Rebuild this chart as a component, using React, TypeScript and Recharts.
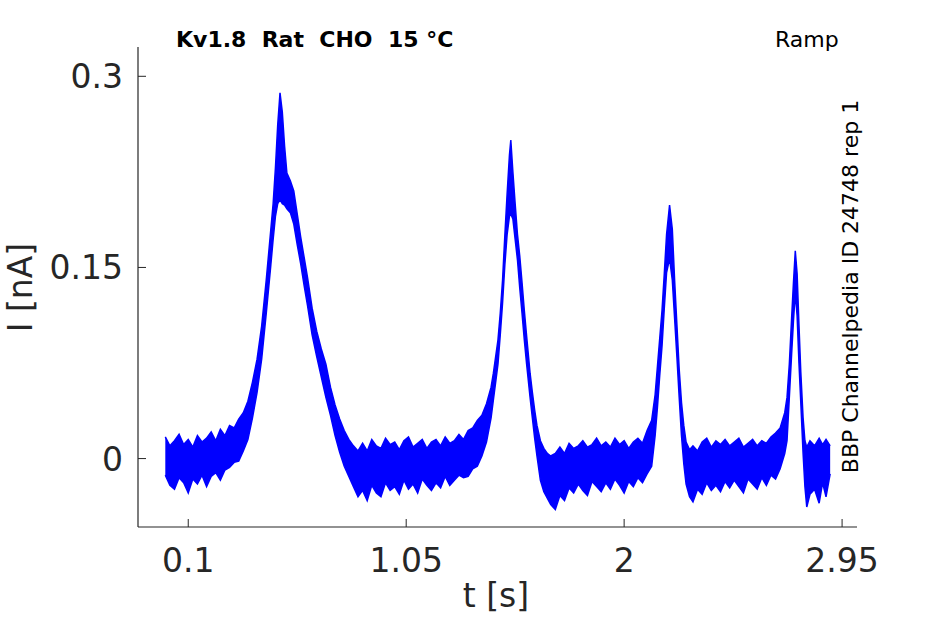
import { ComposedChart, Area, XAxis, YAxis } from "recharts";

const time = [
  0.0, 0.02, 0.04, 0.06, 0.08, 0.1, 0.12, 0.14, 0.16, 0.18, 0.2, 0.22, 0.24, 0.26, 0.28, 0.3,
  0.32, 0.34, 0.36, 0.38, 0.4, 0.42, 0.44, 0.46, 0.47, 0.48, 0.49, 0.5, 0.51, 0.52, 0.53, 0.545,
  0.56, 0.575, 0.59, 0.605, 0.62, 0.64, 0.66, 0.68, 0.7, 0.72, 0.74, 0.76, 0.78, 0.8, 0.82, 0.84,
  0.86, 0.88, 0.9, 0.92, 0.94, 0.96, 0.98, 1.0, 1.02, 1.04, 1.06, 1.08, 1.1, 1.12, 1.14, 1.16,
  1.18, 1.2, 1.22, 1.24, 1.26, 1.28, 1.3, 1.32, 1.34, 1.36, 1.38, 1.4, 1.42, 1.43, 1.44, 1.45,
  1.46, 1.47, 1.48, 1.49, 1.5, 1.506, 1.515, 1.525, 1.535, 1.545, 1.555, 1.565, 1.575, 1.59, 1.6, 1.61,
  1.62, 1.635, 1.65, 1.665, 1.68, 1.7, 1.72, 1.74, 1.76, 1.78, 1.8, 1.82, 1.84, 1.86, 1.88, 1.9,
  1.92, 1.94, 1.96, 1.98, 2.0, 2.02, 2.04, 2.06, 2.08, 2.1, 2.12, 2.135, 2.145, 2.155, 2.165, 2.175,
  2.185, 2.198, 2.21, 2.22, 2.23, 2.24, 2.25, 2.26, 2.27, 2.285, 2.3, 2.32, 2.34, 2.36, 2.38, 2.4,
  2.42, 2.44, 2.46, 2.48, 2.5, 2.52, 2.54, 2.56, 2.58, 2.6, 2.62, 2.64, 2.66, 2.68, 2.7, 2.71,
  2.72, 2.73, 2.738, 2.746, 2.754, 2.762, 2.77, 2.78, 2.788, 2.796, 2.81, 2.83, 2.85, 2.865, 2.88, 2.898,
];

// upper edge of the noisy current trace
const upper = [
  0.017, 0.01, 0.014, 0.019, 0.011, 0.015, 0.009, 0.018, 0.013, 0.016, 0.021, 0.014, 0.023, 0.018, 0.026, 0.024,
  0.031, 0.036, 0.045, 0.06, 0.078, 0.104, 0.14, 0.18, 0.2, 0.228, 0.262, 0.287, 0.272, 0.245, 0.224, 0.218,
  0.21, 0.192, 0.174, 0.158, 0.142, 0.118, 0.1, 0.086, 0.074, 0.056, 0.042, 0.031, 0.022, 0.015, 0.01, 0.006,
  0.012, 0.006, 0.015, 0.01, 0.008, 0.016, 0.011, 0.013, 0.007, 0.014, 0.017, 0.009, 0.012, 0.015, 0.008, 0.013,
  0.015, 0.01, 0.017, 0.012, 0.014, 0.019, 0.015, 0.022, 0.024, 0.03, 0.034, 0.043, 0.056, 0.067, 0.08, 0.093,
  0.114, 0.14, 0.175, 0.208, 0.238, 0.25, 0.225, 0.2, 0.176, 0.159, 0.138, 0.116, 0.096, 0.067, 0.052, 0.038,
  0.026, 0.014, 0.008, 0.004, 0.002, 0.004, 0.009, 0.004, 0.012, 0.008, 0.01, 0.014, 0.009, 0.011, 0.016, 0.01,
  0.013, 0.009, 0.016, 0.011, 0.014, 0.008, 0.013, 0.016, 0.012, 0.022, 0.03, 0.05, 0.072, 0.094, 0.116, 0.145,
  0.176, 0.199, 0.18, 0.14, 0.105, 0.07, 0.044, 0.026, 0.013, 0.007, 0.01, 0.006, 0.013, 0.016, 0.009, 0.014,
  0.011, 0.015, 0.01, 0.013, 0.016, 0.009, 0.012, 0.015, 0.01, 0.014, 0.012, 0.017, 0.02, 0.024, 0.036, 0.048,
  0.074, 0.11, 0.138, 0.163, 0.145, 0.105, 0.068, 0.032, 0.014, 0.009, 0.014, 0.01, 0.016, 0.011, 0.015, 0.01,
];

// lower edge of the noisy current trace
const lower = [
  -0.013, -0.021, -0.024, -0.015, -0.019, -0.027, -0.016, -0.02, -0.013, -0.022, -0.014, -0.011, -0.017, -0.009, -0.007, -0.003,
  -0.002, 0.006, 0.015, 0.032, 0.052, 0.078, 0.114, 0.152, 0.172, 0.19, 0.2, 0.203, 0.2, 0.199, 0.196, 0.193,
  0.184, 0.168, 0.153, 0.136, 0.12, 0.097, 0.08, 0.064, 0.048, 0.034, 0.018, 0.005, -0.006, -0.014, -0.022, -0.03,
  -0.025, -0.033, -0.021, -0.027, -0.03, -0.019, -0.025, -0.022, -0.028, -0.017, -0.024, -0.02, -0.027, -0.016, -0.021, -0.025,
  -0.019, -0.023, -0.014, -0.021, -0.017, -0.013, -0.015, -0.014, -0.008, -0.006, 0.002, 0.013, 0.032, 0.046, 0.06, 0.074,
  0.097, 0.122, 0.152, 0.176, 0.19, 0.192, 0.188, 0.172, 0.156, 0.134, 0.114, 0.093, 0.074, 0.048, 0.032, 0.016,
  0.002, -0.017, -0.026, -0.031, -0.036, -0.04, -0.029, -0.033, -0.023, -0.027, -0.02, -0.025, -0.029, -0.018, -0.022, -0.026,
  -0.019, -0.024, -0.016, -0.021, -0.027, -0.018, -0.022, -0.015, -0.019, -0.012, -0.006, 0.018, 0.04, 0.065, 0.088, 0.118,
  0.146, 0.157, 0.14, 0.11, 0.08, 0.048, 0.018, -0.004, -0.02, -0.03, -0.034, -0.024, -0.028, -0.019, -0.025, -0.021,
  -0.026, -0.018, -0.023, -0.017, -0.022, -0.027, -0.016, -0.02, -0.024, -0.015, -0.021, -0.013, -0.016, -0.008, 0.004, 0.014,
  0.048, 0.082, 0.108, 0.13, 0.112, 0.075, 0.044, 0.004, -0.022, -0.038, -0.028, -0.024, -0.035, -0.019, -0.03, -0.012,
];

const xTicks = [0.1, 1.05, 2, 2.95];
const yTicks = [0, 0.15, 0.3];

const data = time.map((t, i) => ({ t, band: [lower[i], upper[i]] }));

const FONT = "DejaVu Sans";
const INK = "#262626";

function XTick(props: any) {
  const { x, y, payload } = props;
  return (
    <g>
      <line x1={x} y1={y} x2={x} y2={y - 8} stroke={INK} strokeWidth={1} />
      <text x={x} y={y + 45} textAnchor="middle" fontFamily={FONT} fontSize={33} fill={INK}>
        {payload.value}
      </text>
    </g>
  );
}

function YTick(props: any) {
  const { x, y, payload } = props;
  return (
    <g>
      <line x1={x} y1={y} x2={x + 8} y2={y} stroke={INK} strokeWidth={1} />
      <text x={x - 15} y={y + 12} textAnchor="end" fontFamily={FONT} fontSize={33} fill={INK}>
        {payload.value}
      </text>
    </g>
  );
}

export default function App() {
  return (
    <div style={{ position: "absolute", left: 0, top: 0, width: 945, height: 624, background: "#fff" }}>
      <ComposedChart
        width={945}
        height={624}
        data={data}
        margin={{ top: 47, right: 88, bottom: 0, left: 0 }}
      >
        <XAxis
          dataKey="t"
          type="number"
          domain={[-0.119, 3.015]}
          ticks={xTicks}
          allowDataOverflow
          height={97}
          tickSize={0}
          tickMargin={0}
          tickLine={false}
          axisLine={{ stroke: INK, strokeWidth: 1.2 }}
          tick={<XTick />}
          interval={0}
        />
        <YAxis
          type="number"
          domain={[-0.0537, 0.323]}
          ticks={yTicks}
          allowDataOverflow
          width={138}
          tickSize={0}
          tickMargin={0}
          tickLine={false}
          axisLine={{ stroke: INK, strokeWidth: 1.2 }}
          tick={<YTick />}
          interval={0}
        />
        <Area
          dataKey="band"
          type="linear"
          stroke="#0000ff"
          strokeWidth={1.5}
          fill="#0000ff"
          fillOpacity={1}
          dot={false}
          activeDot={false}
          isAnimationActive={false}
        />
      </ComposedChart>
      <svg
        width={945}
        height={624}
        style={{ position: "absolute", left: 0, top: 0, pointerEvents: "none" }}
      >
        <text x={176} y={47} fontFamily={FONT} fontWeight="bold" fontSize={22} fill="#000" style={{ whiteSpace: "pre" }}>
          {"Kv1.8  Rat  CHO  15 °C"}
        </text>
        <text x={775} y={47} fontFamily={FONT} fontSize={22} fill="#000">
          Ramp
        </text>
        <text
          x={858}
          y={286.5}
          transform="rotate(-90 858 286.5)"
          textAnchor="middle"
          fontFamily={FONT}
          fontSize={22}
          fill="#000"
        >
          BBP Channelpedia ID 24748 rep 1
        </text>
        <text x={496} y={607} textAnchor="middle" fontFamily={FONT} fontSize={33} fill={INK}>
          t [s]
        </text>
        <text
          x={32}
          y={287.5}
          transform="rotate(-90 32 287.5)"
          textAnchor="middle"
          fontFamily={FONT}
          fontSize={33}
          fill={INK}
        >
          I [nA]
        </text>
      </svg>
    </div>
  );
}
